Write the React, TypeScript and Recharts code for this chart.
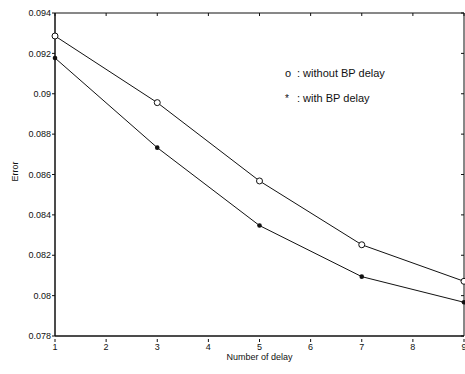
import React from 'react';
import { LineChart, Line, XAxis, YAxis, ReferenceArea } from 'recharts';

const delays = [1, 3, 5, 7, 9];
const withoutBP = [0.09286, 0.08956, 0.08568, 0.08252, 0.08071];
const withBP = [0.09177, 0.08733, 0.08347, 0.08094, 0.07967];
const xTicks = [1, 2, 3, 4, 5, 6, 7, 8, 9];
const yTicks = [0.078, 0.08, 0.082, 0.084, 0.086, 0.088, 0.09, 0.092, 0.094];

const data = delays.map((d, i) => ({ x: d, without: withoutBP[i], with: withBP[i] }));

const FONT = '"Liberation Sans", Arial, Helvetica, sans-serif';
const CHART_W = 465;
const CHART_H = 374;
const M_TOP = 13;
const M_RIGHT = 1;
const Y_W = 55;
const X_H = 38;
const PLOT_TOP = M_TOP;
const PLOT_RIGHT = CHART_W - M_RIGHT;

const OpenDot = (p: any) => (
  <circle cx={p.cx} cy={p.cy} r={3} fill="#fff" stroke="#111" strokeWidth={1} />
);
const FilledDot = (p: any) => (
  <circle cx={p.cx} cy={p.cy} r={2.3} fill="#111" stroke="none" />
);

const XTick = (p: any) => {
  const axisY = p.y - 1;
  return (
    <g>
      <line x1={p.x} x2={p.x} y1={axisY} y2={axisY - 3} stroke="#111" />
      <line x1={p.x} x2={p.x} y1={PLOT_TOP} y2={PLOT_TOP + 3} stroke="#111" />
      <text x={p.x} y={p.y} dy="0.75em" textAnchor="middle" fontSize={9} fill="#111" fontFamily={FONT}>
        {p.payload.value}
      </text>
    </g>
  );
};

const YTick = (p: any) => (
  <g>
    <line x1={PLOT_RIGHT} x2={PLOT_RIGHT - 3} y1={p.y} y2={p.y} stroke="#111" />
    <text x={p.x} y={p.y} dy="0.35em" textAnchor="end" fontSize={9} fill="#111" fontFamily={FONT}>
      {p.payload.value}
    </text>
  </g>
);

export default function App() {
  return (
    <div style={{ position: 'absolute', left: 0, top: 0, width: CHART_W, height: CHART_H, background: '#fff', fontFamily: FONT }}>
      <LineChart width={CHART_W} height={CHART_H} data={data} margin={{ top: M_TOP, right: M_RIGHT, bottom: 0, left: 0 }}>
        <XAxis
          dataKey="x"
          type="number"
          domain={[1, 9]}
          ticks={xTicks}
          height={X_H}
          tickLine={false}
          tickMargin={1}
          tick={<XTick />}
          stroke="#111"
          interval={0}
          label={{ value: 'Number of delay', position: 'insideBottom', offset: 14, style: { fontSize: 9, fill: '#111', fontFamily: FONT } }}
        />
        <YAxis
          domain={[0.078, 0.094]}
          ticks={yTicks}
          width={Y_W}
          tickSize={3}
          tickMargin={1}
          tick={<YTick />}
          stroke="#111"
          interval={0}
          allowDataOverflow
          label={{
            content: (props: any) => {
              const vb = props.viewBox || { x: 0, y: 13, width: 55, height: 323 };
              const cx = 15;
              const cy = vb.y + vb.height / 2 - 3;
              return (
                <text x={cx} y={cy} transform={`rotate(-90 ${cx} ${cy})`} textAnchor="middle" dominantBaseline="central" fontSize={9} fill="#111" fontFamily={FONT}>
                  Error
                </text>
              );
            },
          }}
        />
        <ReferenceArea x1={1} x2={9} y1={0.078} y2={0.094} fill="none" stroke="#111" strokeWidth={1} fillOpacity={0} ifOverflow="visible" />
        <Line dataKey="without" stroke="#111" strokeWidth={1} dot={<OpenDot />} activeDot={false} isAnimationActive={false} />
        <Line dataKey="with" stroke="#111" strokeWidth={1} dot={<FilledDot />} activeDot={false} isAnimationActive={false} />
      </LineChart>
      <div style={{ position: 'absolute', left: 285, top: 67, fontSize: 11, lineHeight: '12px', color: '#111', whiteSpace: 'nowrap' }}>
        <span style={{ display: 'inline-block', width: 12 }}>o</span>: without BP delay
      </div>
      <div style={{ position: 'absolute', left: 285, top: 92, fontSize: 11, lineHeight: '12px', color: '#111', whiteSpace: 'nowrap' }}>
        <span style={{ display: 'inline-block', width: 12, fontSize: 10 }}>*</span>: with BP delay
      </div>
    </div>
  );
}
